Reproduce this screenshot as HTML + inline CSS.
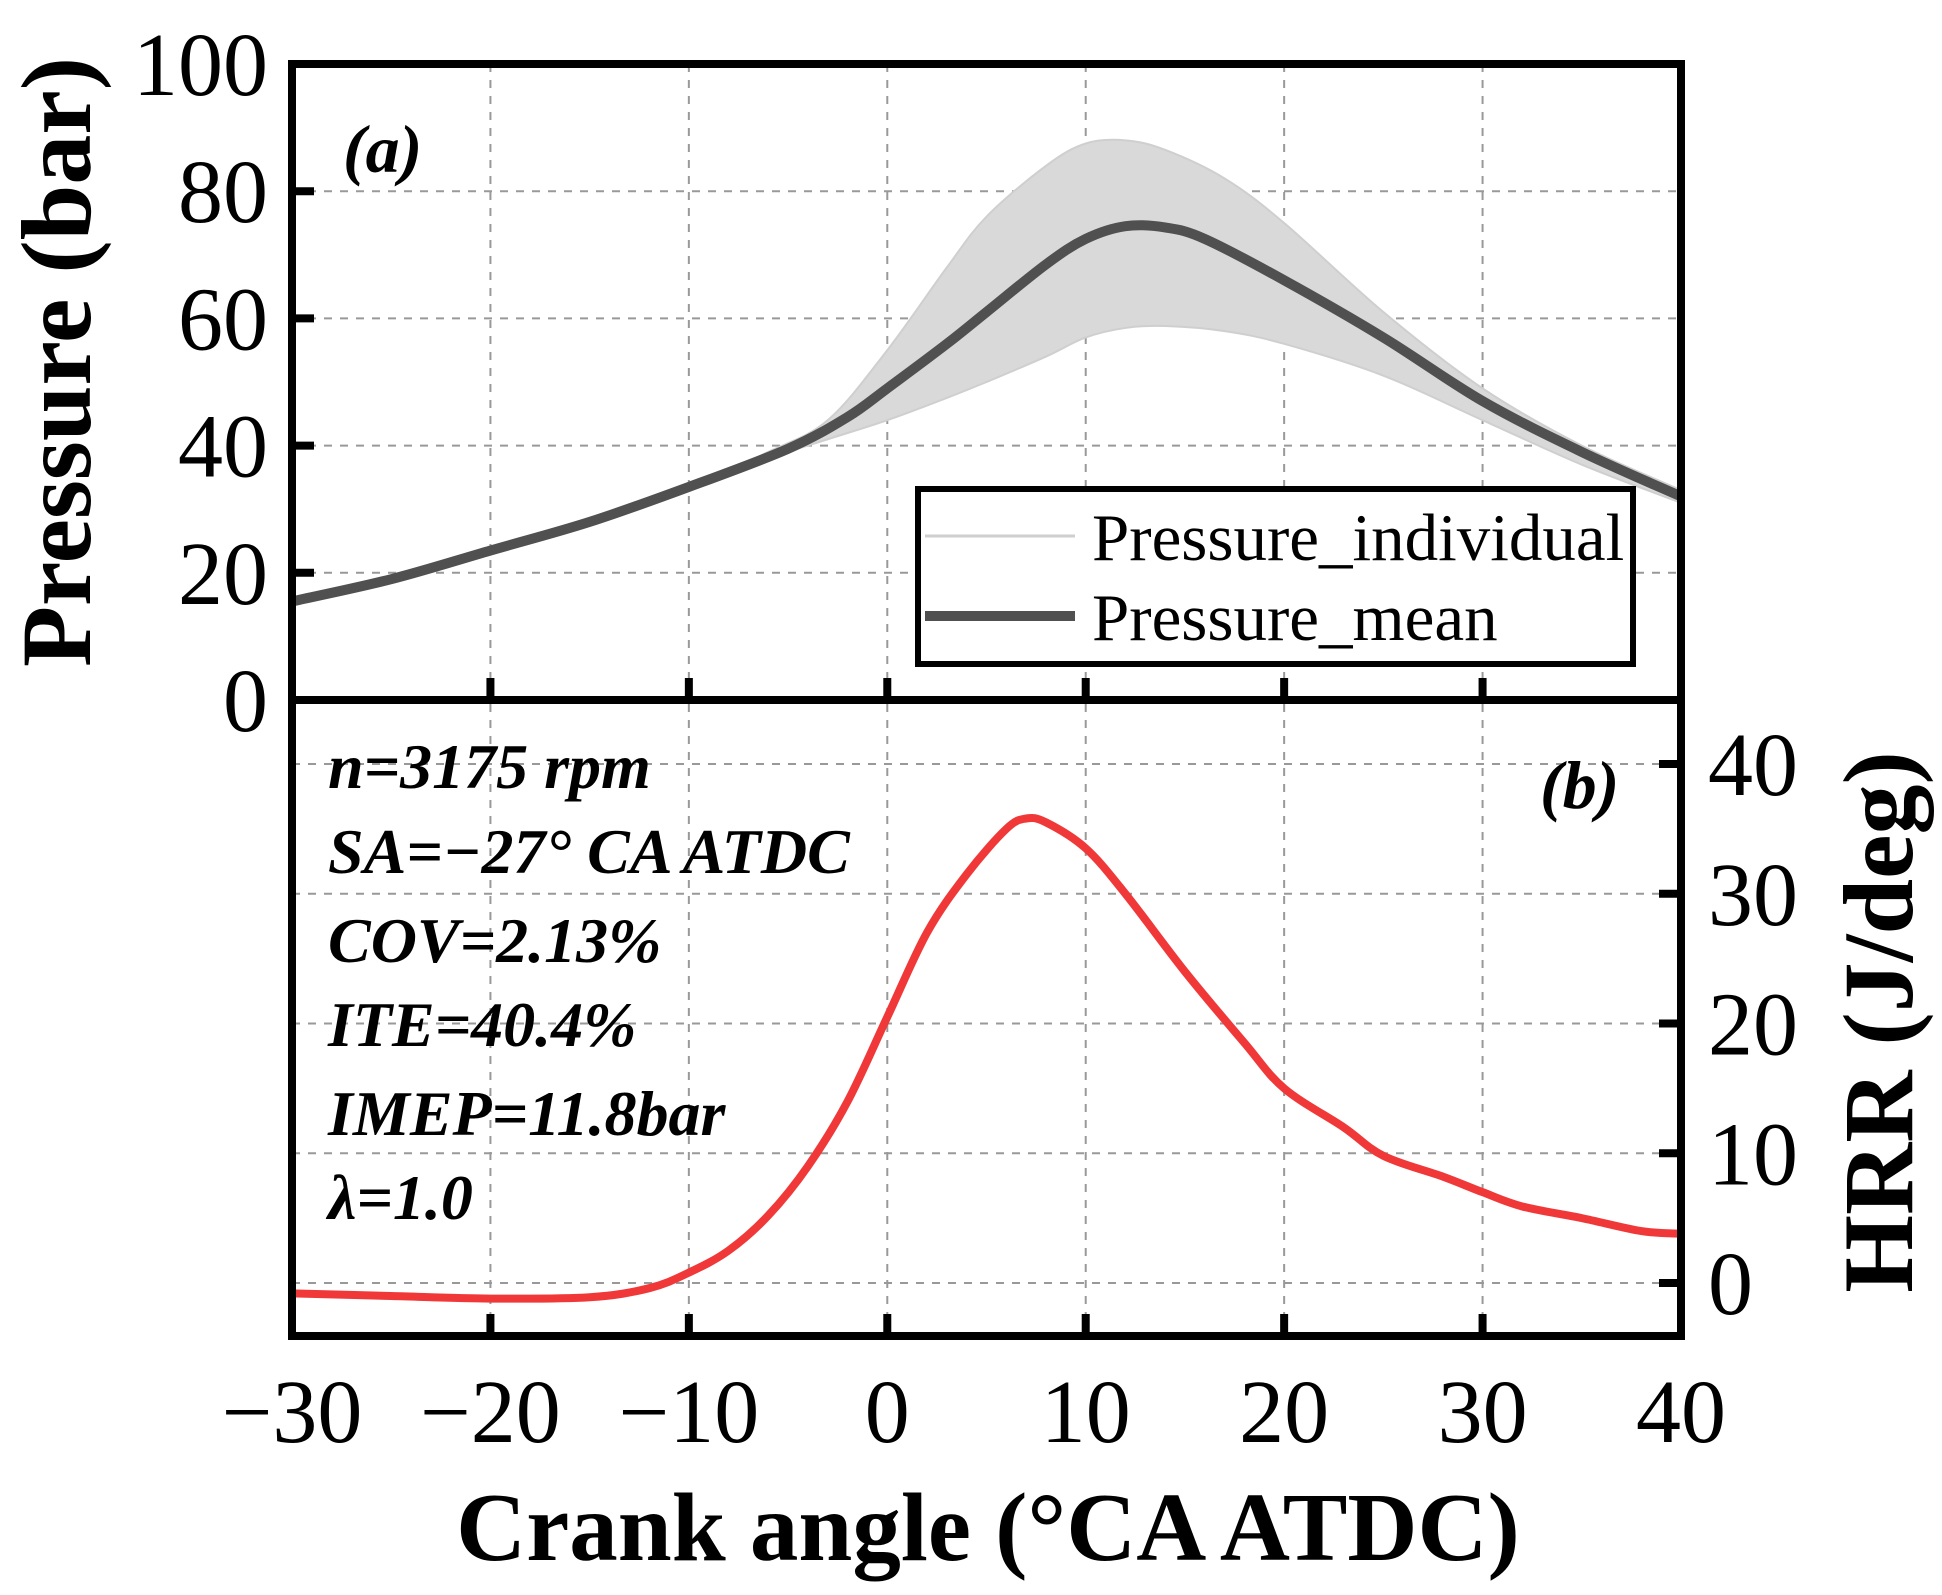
<!DOCTYPE html>
<html><head><meta charset="utf-8"><style>
html,body{margin:0;padding:0;background:#fff;}
svg{display:block;font-family:"Liberation Serif",serif;}
</style></head><body>
<svg id="chart" width="1942" height="1595" viewBox="0 0 1942 1595"></svg>
<script>
const xTicks=[-30,-20,-10,0,10,20,30,40];
const pTicks=[0,20,40,60,80,100];
const hTicks=[0,10,20,30,40];
const meanAngle=[-30,-25,-20,-15,-10,-5,-2,0,3,5,8,10,12,14,16,20,25,30,35,40];
const meanP=[15.5,19,23.5,28,33.5,39.5,44.5,49,56,61,68.5,72.5,74.5,74.3,72.5,66,57,47,39,32];
const envAngle=[-30,-20,-10,-6,-3,0,3,5,8,10,12,14,17,20,25,30,35,40];
const envUpper=[15.5,23.5,33.5,39,44,55,68,76,84,87.5,88,86.5,82,75,61,49,40,33];
const envLower=[15.5,23.5,33.5,38,41,44,47.5,50,54,57,58.5,58.8,58,56,51,44,37,31];
const hrrAngle=[-30,-25,-20,-15,-12,-10,-8,-6,-4,-2,0,2,4,6,7,8,10,12,15,18,20,23,25,28,30,32,35,38,40];
const hrrVal=[-0.8,-1,-1.2,-1.1,-0.4,0.8,2.5,5.2,9,14,20.5,27,31.5,35,35.8,35.5,33.5,30,24,18.5,15,12,9.8,8.2,7,5.9,5,4,3.8];

const NS="http://www.w3.org/2000/svg";
const svg=document.getElementById('chart');
const X0=292,X1=1681,TT=64,MID=700,BOT=1336;
const xs=v=>X0+(v+30)/70*(X1-X0);
const yp=v=>MID-v/100*(MID-TT);
const H0=1283,HU=12.975;
const yh=v=>H0-v*HU;
function el(tag,attrs,parent){const e=document.createElementNS(NS,tag);for(const k in attrs)e.setAttribute(k,attrs[k]);(parent||svg).appendChild(e);return e;}
function txt(s,attrs){const t=el('text',attrs);t.textContent=s;return t;}
function smooth(pts,start){
  let d=(start?'M':'L')+pts[0][0]+','+pts[0][1];
  for(let i=0;i<pts.length-1;i++){
    const p0=pts[i-1]||pts[i],p1=pts[i],p2=pts[i+1],p3=pts[i+2]||p2;
    const c1=[p1[0]+(p2[0]-p0[0])/6,p1[1]+(p2[1]-p0[1])/6];
    const c2=[p2[0]-(p3[0]-p1[0])/6,p2[1]-(p3[1]-p1[1])/6];
    d+='C'+c1[0]+','+c1[1]+' '+c2[0]+','+c2[1]+' '+p2[0]+','+p2[1];
  }
  return d;
}

const grid=el('g',{stroke:'#999','stroke-width':2,'stroke-dasharray':'8,8',fill:'none'});


xTicks.slice(1,-1).forEach(v=>{el('line',{x1:xs(v),x2:xs(v),y1:TT,y2:BOT},grid);});
pTicks.slice(1,-1).forEach(v=>{el('line',{x1:X0,x2:X1,y1:yp(v),y2:yp(v)},grid);});
hTicks.forEach(v=>{el('line',{x1:X0,x2:X1,y1:yh(v),y2:yh(v)},grid);});

const clipTop=el('clipPath',{id:'ct'});el('rect',{x:X0,y:TT,width:X1-X0,height:MID-TT},clipTop);
const up=envAngle.map((a,i)=>[xs(a),yp(envUpper[i])]);
const lo=envAngle.map((a,i)=>[xs(a),yp(envLower[i])]).reverse();
const band=el('path',{d:smooth(up,true)+smooth(lo,false)+'Z',fill:'#d9d9d9',stroke:'#cfcfcf','stroke-width':2,'clip-path':'url(#ct)'});



const mean=el('path',{d:smooth(meanAngle.map((a,i)=>[xs(a),yp(meanP[i])]),true),fill:'none',stroke:'#505050','stroke-width':10,'stroke-linejoin':'round','clip-path':'url(#ct)'});



const clipB=el('clipPath',{id:'cb'});el('rect',{x:X0,y:MID,width:X1-X0,height:BOT-MID},clipB);
const hrr=el('path',{d:smooth(hrrAngle.map((a,i)=>[xs(a),yh(hrrVal[i])]),true),fill:'none',stroke:'#f03838','stroke-width':8,'stroke-linejoin':'round','clip-path':'url(#cb)'});



const ax=el('g',{stroke:'#000','stroke-width':8,fill:'none'});


el('rect',{x:X0,y:TT,width:X1-X0,height:BOT-TT},ax);
el('line',{x1:X0,x2:X1,y1:MID,y2:MID},ax);
xTicks.slice(1,-1).forEach(v=>{el('line',{x1:xs(v),x2:xs(v),y1:MID,y2:MID-22},ax);el('line',{x1:xs(v),x2:xs(v),y1:BOT,y2:BOT-22},ax);});
pTicks.slice(1,-1).forEach(v=>{el('line',{x1:X0,x2:X0+22,y1:yp(v),y2:yp(v)},ax);});
hTicks.forEach(v=>{el('line',{x1:X1,x2:X1-22,y1:yh(v),y2:yh(v)},ax);});

xTicks.forEach(v=>{const t=txt(String(v).replace('-','\u2212'),{x:xs(v),y:1442,'font-size':90,'text-anchor':'middle'});
});
pTicks.forEach(v=>{const t=txt(String(v),{x:268,y:yp(v)+31,'font-size':90,'text-anchor':'end'});
});
hTicks.forEach(v=>{const t=txt(String(v),{x:1708,y:yh(v)+31,'font-size':90});
});

let t=txt('Crank angle (\u00b0CA ATDC)',{x:988,y:1560,'font-size':97,'font-weight':'bold','text-anchor':'middle'});

t=txt('Pressure (bar)',{x:0,y:0,'font-size':100,'font-weight':'bold','text-anchor':'middle',transform:'translate(90,362) rotate(-90)'});

t=txt('HRR (J/deg)',{x:0,y:0,'font-size':100,'font-weight':'bold','text-anchor':'middle',transform:'translate(1912,1022) rotate(-90)'});


t=txt('(a)',{x:343,y:172,'font-size':68,'font-weight':'bold','font-style':'italic'});

t=txt('(b)',{x:1540,y:808,'font-size':68,'font-weight':'bold','font-style':'italic'});


const notes=['n=3175 rpm','SA=\u221227\u00b0 CA ATDC','COV=2.13%','ITE=40.4%','IMEP=11.8bar','\u03bb=1.0'];
const noteY=[788,873,962,1046,1135,1219];
notes.forEach((s,i)=>{const n=txt(s,{x:328,y:noteY[i],'font-size':64,'font-weight':'bold','font-style':'italic'});
});

const lg=el('g',{});


el('rect',{x:918,y:489,width:715,height:175,fill:'#fff',stroke:'#000','stroke-width':6},lg);
el('line',{x1:925,x2:1075,y1:536,y2:536,stroke:'#cfcfcf','stroke-width':3},lg);
el('line',{x1:925,x2:1075,y1:616,y2:616,stroke:'#505050','stroke-width':10},lg);
const l1=el('text',{x:1092,y:560,'font-size':67},lg);l1.textContent='Pressure_individual';

const l2=el('text',{x:1092,y:640,'font-size':67},lg);l2.textContent='Pressure_mean';

</script>
</body></html>
